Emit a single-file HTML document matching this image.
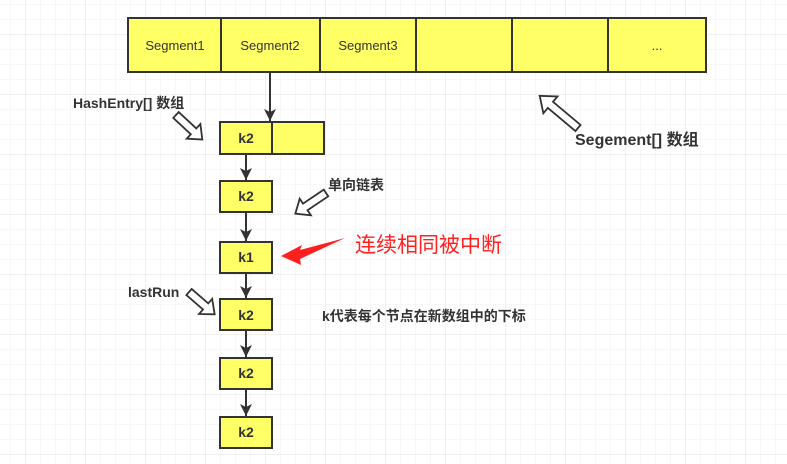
<!DOCTYPE html>
<html><head><meta charset="utf-8"><style>
body{margin:0;width:787px;height:464px;overflow:hidden;background:#fff;}
svg{display:block}
text{font-family:"Liberation Sans","Noto Sans CJK SC",sans-serif;fill:#333}
</style></head><body>
<svg width="787" height="464" xmlns="http://www.w3.org/2000/svg">
<defs>
<pattern id="g" x="10" y="4" width="15" height="15" patternUnits="userSpaceOnUse">
<path d="M0 0H15M0 0V15" stroke="#efefef" stroke-width="1" fill="none"/>
</pattern>
<pattern id="G" x="25" y="34" width="60" height="60" patternUnits="userSpaceOnUse">
<path d="M0 0H60M0 0V60" stroke="#e2e2e2" stroke-width="1" fill="none"/>
</pattern>
<marker id="a" markerWidth="12" markerHeight="14" refX="12" refY="6" orient="auto" markerUnits="userSpaceOnUse">
<path d="M0 0L12 6L0 12L3 6Z" fill="#333"/>
</marker>
</defs>
<rect width="787" height="464" fill="url(#g)"/>
<rect width="787" height="464" fill="url(#G)"/>
<g stroke="#333" stroke-width="2" fill="#ffff66">
<rect x="128" y="18" width="578" height="54"/>
<path d="M221 18V72M320 18V72M416 18V72M512 18V72M608 18V72" fill="none"/>
<rect x="220" y="122" width="104" height="32"/>
<path d="M272 122V154" fill="none"/>
<rect x="220" y="181" width="52" height="31"/>
<rect x="220" y="242" width="52" height="31"/>
<rect x="220" y="299" width="52" height="31"/>
<rect x="220" y="358" width="52" height="31"/>
<rect x="220" y="417" width="52" height="31"/>
</g>
<g stroke="#333" stroke-width="2" fill="none" marker-end="url(#a)">
<path d="M270 72V121"/>
<path d="M246 154V180"/>
<path d="M246 212V241"/>
<path d="M246 273V298"/>
<path d="M246 330V357"/>
<path d="M246 389V416"/>
</g>
<g font-size="13" text-anchor="middle">
<text x="175" y="50">Segment1</text>
<text x="270" y="50">Segment2</text>
<text x="368" y="50">Segment3</text>
<text x="657" y="50">...</text>
</g>
<g font-size="14" font-weight="bold" text-anchor="middle">
<text x="246" y="143">k2</text>
<text x="246" y="201">k2</text>
<text x="246" y="262">k1</text>
<text x="246" y="320">k2</text>
<text x="246" y="378">k2</text>
<text x="246" y="437">k2</text>
</g>
<g stroke="#333" stroke-width="1.8" fill="#fff">
<polygon points="0,-4 24,-4 24,-10 36,0 24,10 24,4 0,4" transform="translate(176,115) rotate(43)"/>
<polygon points="0,-4 36,-4 36,-11 50,0 36,11 36,4 0,4" transform="translate(578,128) rotate(-140)"/>
<polygon points="0,-4 25,-4 25,-10 37,0 25,10 25,4 0,4" transform="translate(326,193) rotate(146)"/>
<polygon points="0,-4 22,-4 22,-10 34,0 22,10 22,4 0,4" transform="translate(189,292) rotate(41)"/>
</g>
<polygon points="345,238 300,250 302,245 281,256 301,265 300,259" fill="#ff2020"/>
<text x="73" y="108" font-size="14" font-weight="bold">HashEntry[] 数组</text>
<text x="575" y="145" font-size="16" font-weight="bold">Segement[] 数组</text>
<text x="328" y="190" font-size="14" font-weight="bold">单向链表</text>
<text x="355" y="252" font-size="21" style="fill:#ff2020">连续相同被中断</text>
<text x="128" y="297" font-size="14" font-weight="bold">lastRun</text>
<text x="322" y="321" font-size="14" font-weight="bold">k代表每个节点在新数组中的下标</text>
</svg>
</body></html>
